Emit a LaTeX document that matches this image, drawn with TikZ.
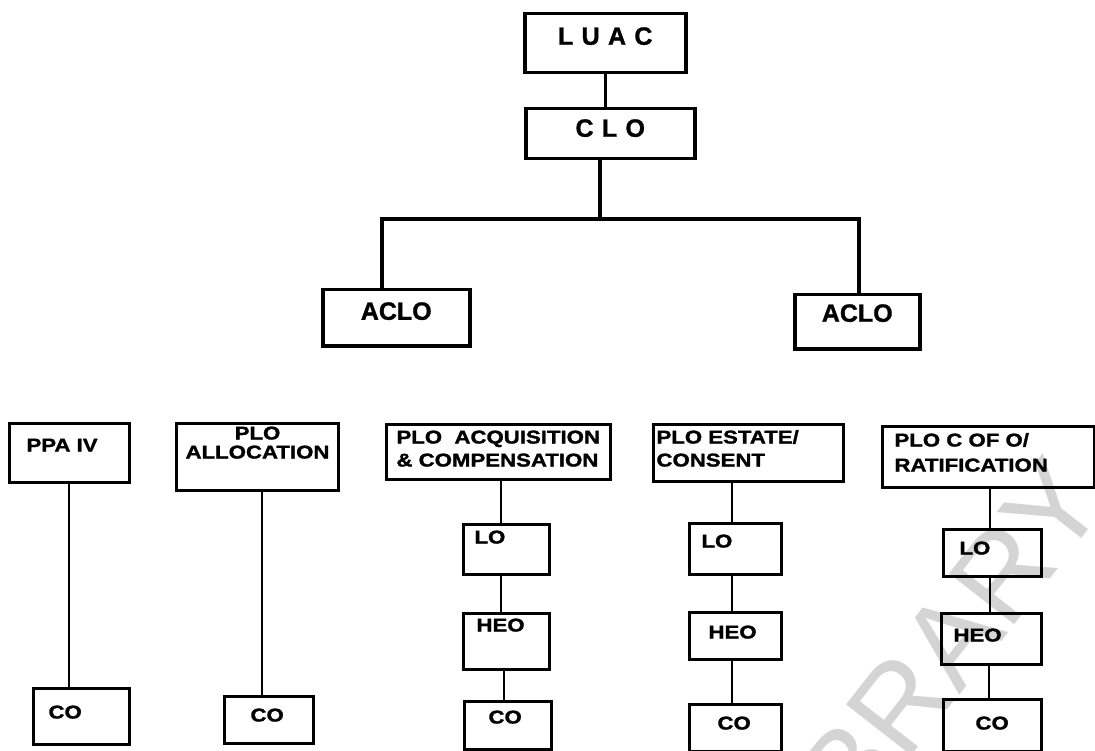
\documentclass[tikz,border=0pt]{standalone}
\usepackage{fontspec}
\setmainfont{Liberation Sans}
\newfontfamily\headfont{Liberation Sans}[BoldFeatures={FakeBold=1.2}]
\newfontfamily\postfont{Liberation Sans}[FakeStretch=1.2, BoldFeatures={FakeBold=1.5}]

\tikzset{
  post/.style n args={4}{draw, line width=3pt, anchor=north west, inner ysep=0pt,
    inner xsep=#1pt, text width=#2pt, text height=#3pt, text depth=#4pt, align=left,
    font=\postfont\bfseries\fontsize{18.5}{23}\selectfont},
  head/.style n args={3}{post={0}{#1}{#2}{#3}, line width=3.5pt, align=center,
    font=\headfont\bfseries\fontsize{25}{28}\selectfont},
  trunk/.style={line width=3.5pt},
  stem/.style={line width=2pt},
}

\begin{document}
\begin{tikzpicture}[x=1pt, y=-1pt]
\useasboundingbox (0,0) rectangle (1095,751);

% Watermark of the scan
\node[rotate=52, text=black!17, anchor=base east,
  font=\headfont\fontsize{120}{120}\selectfont] (mark) at (1112,500) {LIBRARY};

% Top of the chart
\node[head={161}{31}{28}] (luac) at (523,12) {L U A C};
\node[head={169}{28}{22}] (clo) at (524,107) {C L O};
\node[head={147}{30}{26}] (acloL) at (321,288) {ACLO};
\node[head={125}{27}{27}] (acloR) at (793,293) {ACLO};

\coordinate (fork) at (600,219);
\coordinate (forkL) at (382,219);
\coordinate (forkR) at (859,219);

\draw[trunk] (luac.south) -- (luac.south |- clo.north);
\draw[trunk] (clo.south -| fork) -- (fork);
\draw[trunk] (acloL.north -| forkL) -- (forkL) -- (forkR) -- (acloR.north -| forkR);

% Posts
\node[post={17}{86}{28}{31}] (ppa) at (8,422) {PPA~IV};
\node[post={0}{162}{16}{51}, align=center] (alloc) at (175,422) {PLO\\[-4pt]ALLOCATION};
\node[post={10}{204}{19}{36}] (acq) at (385,423) {PLO~~ACQUISITION\\\&~COMPENSATION};
\node[post={3}{184}{19}{38}] (estate) at (652,423) {PLO~ESTATE/\\CONSENT};
\node[post={12}{188}{20}{41}, font=\postfont\bfseries\fontsize{18.5}{25}\selectfont] (cofo) at (881,425) {PLO~C~OF~O/\\RATIFICATION};

% Officers
\node[post={15}{66}{30}{26}] (ppaco) at (32,687) {CO};
\node[post={26}{37}{25}{22}] (allocco) at (223,695) {CO};
\node[post={11}{64}{19}{31}] (acqlo) at (462,523) {LO};
\node[post={13}{60}{18}{38}] (acqheo) at (462,612) {HEO};
\node[post={24}{39}{22}{26}] (acqco) at (463,700) {CO};
\node[post={12}{68}{24}{27}] (estlo) at (688,522) {LO};
\node[post={19}{54}{26}{21}] (estheo) at (688,611) {HEO};
\node[post={28}{36}{25}{22}] (estco) at (688,703) {CO};
\node[post={16}{66}{25}{22}] (coflo) at (942,528) {LO};
\node[post={12}{76}{28}{23}] (cofheo) at (940,612) {HEO};
\node[post={32}{34}{30}{22}] (cofco) at (942,698) {CO};

\foreach \a/\b/\x in {ppa/ppaco/69, alloc/allocco/262,
    acq/acqlo/501, acqlo/acqheo/501, acqheo/acqco/504,
    estate/estlo/732, estlo/estheo/732, estheo/estco/732,
    cofo/coflo/990, coflo/cofheo/990, cofheo/cofco/989}{
  \coordinate (stemx) at (\x,0);
  \draw[stem] (\a.south -| stemx) -- (\b.north -| stemx);
}
\end{tikzpicture}
\end{document}
